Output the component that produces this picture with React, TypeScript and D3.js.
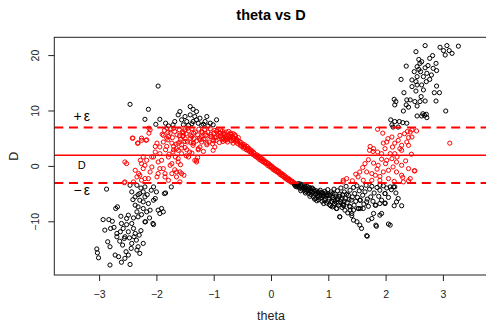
import React, { useEffect, useRef } from "react";
import * as d3 from "d3";

// reference level and tolerance band
const centerD = 2;
const epsilon = 5;

const xTicks = [-3, -2, -1, 0, 1, 2, 3];
const yTicks = [-10, 0, 10, 20];

// [theta, D] pairs, grouped by region
const leftLow: [number, number][] = [
    [-3.04, -14.9], [-3.03, -15.6], [-3.01, -16.5], [-2.81, -17.8], [-2.93, -9.6], [-2.83, -9.6],
    [-2.9, -11.5], [-2.8, -11.2], [-2.85, -13.6], [-2.81, -14.5], [-2.69, -12.1], [-2.68, -7.3],
    [-2.71, -7.6], [-2.66, -16.3], [-2.72, -16.0], [-2.61, -17.3], [-2.55, -16.6], [-2.46, -17.7],
    [-2.59, -14.2], [-2.64, -13.5], [-2.55, -12.7], [-2.49, -11.8], [-2.58, -11.2], [-2.52, -10.5],
    [-2.61, -10.3], [-2.43, -10.3], [-2.4, -11.2], [-2.37, -12.1], [-2.39, -12.7], [-2.43, -13.9],
    [-2.23, -13.9], [-2.29, -15.7], [-2.4, -9.3], [-2.32, -9.1], [-2.52, -9.4], [-2.49, -8.8],
    [-2.34, -8.2], [-2.2, -10.0], [-2.17, -8.2], [-2.05, -10.5], [-2.37, -5.5], [-2.32, -5.1],
    [-2.29, -6.1], [-2.23, -6.4], [-2.2, -5.5], [-2.14, -6.7], [-2.37, -7.0], [-2.32, -7.3],
    [-2.23, -7.6], [-2.11, -7.9], [-2.05, -6.1], [-2.0, -4.6], [-1.91, -7.6], [-1.88, -8.2],
    [-1.94, -8.5], [-2.43, -4.6], [-2.23, -4.6], [-2.05, -3.7], [-2.2, -3.7], [-2.69, -12.7],
    [-2.49, -16.0], [-2.34, -15.1], [-2.32, -14.5], [-2.87, -4.1], [-2.46, -3.4], [-2.34, -3.4],
    [-2.29, -4.9], [-1.86, -4.9], [-2.02, -5.8], [-1.97, -7.9], [-1.84, -4.8], [-1.74, -3.7],
    [-2.06, -10.3], [-2.19, -10.0], [-2.63, -11.8], [-2.47, -12.9], [-2.35, -13.3], [-2.56, -13.0],
    [-2.74, -11.0], [-2.44, -14.8], [-2.53, -15.4], [-2.77, -9.9], [-2.62, -9.0], [-2.27, -11.6],
    [-2.3, -12.4], [-2.12, -9.3], [-2.26, -8.7], [-2.16, -5.1], [-2.41, -6.0], [-2.27, -3.9],
    [-2.09, -4.3],
];

const leftHigh: [number, number][] = [
    [-1.97, 14.5], [-2.46, 11.2], [-2.14, 10.3], [-2.2, 8.5], [-1.94, 8.5], [-2.01, 7.6],
    [-1.84, 7.8], [-1.79, 7.3], [-1.62, 9.3], [-1.59, 9.9], [-1.41, 10.8], [-1.36, 10.3],
    [-1.3, 9.9], [-1.41, 9.3], [-1.33, 9.0], [-1.24, 8.7], [-1.12, 9.0], [-0.95, 8.4],
    [-1.56, 8.4], [-1.47, 8.1], [-1.36, 8.1], [-1.27, 7.8], [-1.15, 8.1], [-1.06, 7.8],
    [-1.68, 8.1], [-1.71, 7.5], [-1.53, 7.5], [-1.44, 7.4], [-1.38, 7.7], [-1.21, 7.4],
    [-1.01, 7.5], [-1.3, 8.4], [-1.18, 7.6], [-1.5, 9.0], [-1.1, 7.3],
];

const leftRed: [number, number][] = [
    [-2.52, 0.5], [-2.42, 5.1], [-2.33, 4.2], [-2.26, 5.1], [-2.17, 4.8], [-2.13, 6.9],
    [-2.56, -2.95], [-2.4, -2.8], [-2.37, -0.7], [-2.31, -1.3], [-2.28, 1.1], [-2.23, 1.7],
    [-2.2, 0.2], [-2.26, -2.5], [-2.14, -2.2], [-2.08, -0.1], [-2.05, 1.7], [-2.02, 3.6],
    [-1.99, 4.2], [-1.94, 2.3], [-1.91, 1.1], [-1.88, -0.4], [-1.97, -1.3], [-1.85, -1.9],
    [-1.82, 3.6], [-1.79, 5.4], [-1.82, 6.9], [-1.76, 6.0], [-1.7, 3.0], [-1.67, 1.7],
    [-1.73, 0.5], [-1.65, -1.0], [-1.59, -2.8], [-1.56, -1.3], [-1.62, 4.2], [-1.56, 3.3],
    [-1.53, 6.0], [-1.5, 4.5], [-1.47, 3.0], [-1.44, 1.7], [-1.38, 5.4], [-1.35, 4.2],
    [-1.33, 1.1], [-1.3, 0.8], [-1.27, 3.0], [-1.24, 4.8], [-1.21, 6.3], [-1.18, 2.7],
    [-1.12, 4.2], [-1.06, 5.4], [-1.01, 4.8], [-0.95, 6.3], [-0.89, 5.4], [-0.83, 6.0],
    [-0.77, 4.8], [-0.72, 5.4], [-0.66, 5.1], [-0.6, 4.8],
    [-2.41, 5.1], [-2.32, 4.2], [-2.26, 4.7], [-2.18, 4.7], [-2.11, 6.6], [-2.13, 6.0],
    [-2.55, 0.8], [-2.34, -1.9], [-2.29, -1.6], [-2.26, 0.5], [-2.23, -0.4], [-2.17, 1.1],
    [-2.08, 1.7], [-2.11, -1.0], [-2.2, -2.2], [-1.99, -1.9], [-1.94, -0.4], [-1.97, 0.8],
    [-2.02, 2.6], [-1.94, 3.5], [-1.88, 4.4], [-1.88, 5.6], [-1.82, 5.1], [-1.73, 4.2],
    [-1.71, 2.6], [-1.79, 1.7], [-1.76, 0.2], [-1.85, -1.3], [-1.73, -1.3], [-1.79, -2.5],
    [-1.65, -1.9], [-1.59, -1.0], [-1.62, 0.8], [-1.56, 2.3], [-1.65, 3.2], [-1.59, 4.4],
    [-1.53, 5.6], [-1.5, 6.6], [-1.41, 5.1], [-1.36, 4.2], [-1.3, 1.1], [-1.27, 3.2],
    [-1.21, 4.4], [-1.15, 6.0], [-0.98, 3.5], [-0.89, 6.0], [-0.8, 5.1], [-2.55, -2.8],
    [-1.01, 2.9],
    [-1.9, 5.8], [-1.86, 6.5], [-1.84, 3.0], [-1.8, 4.8], [-1.78, 2.2], [-1.75, 6.8],
    [-1.72, 5.2], [-1.7, 3.6], [-1.68, 6.3], [-1.66, 4.0], [-1.64, 5.7], [-1.62, 2.9],
    [-1.6, 6.6], [-1.58, 4.9], [-1.56, 3.9], [-1.54, 5.4], [-1.52, 6.9], [-1.5, 3.4],
    [-1.48, 5.9], [-1.46, 4.4], [-1.44, 6.4], [-1.42, 2.6], [-1.4, 5.6], [-1.38, 6.8],
    [-1.36, 3.8], [-1.34, 5.0], [-1.32, 6.2], [-1.3, 4.6], [-1.28, 5.7], [-1.26, 6.7],
    [-1.24, 3.5], [-1.22, 5.3], [-1.2, 6.1], [-1.18, 4.9], [-1.16, 6.6], [-1.14, 5.6],
    [-1.12, 3.9], [-1.1, 6.2], [-1.08, 4.4], [-1.06, 6.8], [-1.04, 5.4], [-1.02, 4.1],
    [-1.0, 6.0], [-0.98, 5.2], [-0.96, 4.7], [-0.94, 6.4], [-0.92, 5.6], [-0.9, 4.3],
    [-0.88, 6.6], [-0.86, 5.0], [-0.84, 4.5], [-0.82, 5.9], [-0.8, 4.7], [-0.78, 5.4],
    [-0.76, 4.4], [-1.55, 6.2], [-1.45, 6.9], [-1.35, 6.0], [-1.25, 5.1], [-1.15, 5.0],
    [-1.05, 5.8], [-1.4, 4.3], [-1.5, 5.0], [-1.6, 5.5], [-1.7, 6.9], [-1.8, 6.1],
    [-1.62, 1.4], [-1.48, 1.9], [-1.38, 2.4], [-1.28, 1.6], [-1.58, 0.3], [-1.68, -0.6],
    [-1.52, -1.6],
];

const midBand: [number, number][] = [
    [-0.74, 5.6], [-0.72, 4.9], [-0.7, 5.8], [-0.69, 4.6], [-0.67, 5.3], [-0.66, 4.2],
    [-0.64, 5.0], [-0.63, 5.7], [-0.61, 4.4], [-0.6, 4.9], [-0.58, 4.1], [-0.57, 5.2],
    [-0.55, 4.5], [-0.54, 3.8], [-0.52, 4.3], [-0.51, 3.6], [-0.49, 4.0], [-0.48, 3.3],
    [-0.46, 3.9], [-0.45, 3.4], [-0.43, 3.0], [-0.42, 3.6], [-0.4, 2.9], [-0.39, 3.3],
    [-0.37, 2.6], [-0.36, 3.0], [-0.34, 2.4], [-0.33, 2.8], [-0.31, 2.1], [-0.3, 2.5],
    [-0.28, 2.0], [-0.27, 1.8], [-0.25, 2.1], [-0.24, 1.6], [-0.22, 1.9], [-0.21, 1.3],
    [-0.19, 1.6], [-0.18, 1.1], [-0.16, 1.4], [-0.15, 0.9], [-0.13, 1.2], [-0.12, 0.7],
    [-0.1, 0.9], [-0.09, 0.5], [-0.07, 0.7], [-0.06, 0.2], [-0.04, 0.5], [-0.03, 0.0],
    [-0.01, 0.2], [0.0, -0.2], [0.02, 0.0], [0.03, -0.5], [0.05, -0.3], [0.06, -0.7],
    [0.08, -0.5], [0.09, -0.9], [0.11, -0.7], [0.12, -1.1], [0.14, -0.9], [0.15, -1.4],
    [0.17, -1.2], [0.18, -1.6], [0.2, -1.4], [0.21, -1.8], [0.23, -1.6], [0.24, -2.1],
    [0.26, -1.9], [0.27, -2.3], [0.29, -2.1], [0.3, -2.5], [0.32, -2.3], [0.33, -2.7],
    [0.35, -2.6], [0.36, -2.9], [0.38, -2.8], [0.4, -2.95],
    [-0.71, 5.2], [-0.65, 4.7], [-0.59, 4.6], [-0.53, 4.0], [-0.47, 3.6], [-0.41, 3.2],
    [-0.35, 2.7], [-0.29, 2.3], [-0.23, 1.8], [-0.17, 1.3], [-0.11, 0.8], [-0.05, 0.4],
    [0.01, -0.1], [0.07, -0.6], [0.13, -1.0], [0.19, -1.5], [0.25, -2.0], [0.31, -2.4],
    [0.37, -2.7],
    [-0.9, 6.1], [-0.88, 5.5], [-0.85, 6.4], [-0.83, 5.0], [-0.8, 5.8], [-0.78, 6.2],
    [-0.76, 5.1], [-0.74, 6.3], [-0.7, 6.0], [-0.66, 5.9], [-0.62, 5.5], [-0.85, 4.8],
    [-0.95, 5.3], [-0.98, 6.5], [-1.0, 4.6],
];

const rightLow: [number, number][] = [
    [0.41, -3.3], [0.42, -3.4], [0.44, -3.2], [0.45, -3.7], [0.47, -3.5], [0.48, -3.1],
    [0.5, -3.9], [0.51, -3.4], [0.53, -3.6], [0.54, -4.1], [0.55, -3.3], [0.57, -3.8],
    [0.58, -4.3], [0.59, -3.5], [0.61, -4.0], [0.62, -4.6], [0.63, -3.6], [0.65, -4.2],
    [0.66, -4.9], [0.67, -3.8], [0.69, -4.4], [0.7, -5.1], [0.71, -4.0], [0.73, -4.7],
    [0.74, -5.5], [0.75, -4.2], [0.77, -5.0], [0.78, -5.8], [0.79, -4.4], [0.81, -5.3],
    [0.82, -4.7], [0.83, -6.0], [0.85, -5.1], [0.86, -4.3], [0.87, -5.7], [0.89, -6.3],
    [0.9, -4.8], [0.91, -5.4], [0.93, -6.1], [0.94, -4.5], [0.95, -5.8], [0.97, -6.6],
    [0.98, -5.1], [0.99, -4.2], [1.01, -5.9], [1.02, -6.9], [1.03, -5.3], [1.05, -4.6],
    [1.06, -6.3], [1.07, -7.3], [1.08, -5.6], [1.1, -4.1], [1.11, -6.7], [1.12, -5.0],
    [1.14, -7.6], [1.15, -6.0], [1.16, -4.4], [1.18, -7.0], [1.19, -5.4], [1.2, -9.1],
    [1.21, -6.4], [1.22, -3.9], [1.24, -7.4], [1.25, -5.1], [1.26, -6.8], [1.28, -4.6],
    [1.29, -7.9], [1.3, -5.8], [1.31, -3.6], [1.33, -6.5], [1.34, -8.4], [1.35, -5.2],
    [1.37, -7.2], [1.38, -4.3], [1.4, -6.1], [1.41, -8.9], [1.42, -5.5], [1.44, -3.8],
    [1.45, -7.0], [1.46, -4.9], [1.48, -6.3], [1.5, -3.5], [1.51, -5.6], [1.53, -7.6],
    [1.54, -4.4], [1.56, -6.1], [1.58, -3.9], [1.6, -5.2], [1.62, -6.8], [1.64, -4.6],
    [1.66, -3.4], [1.68, -5.9], [1.7, -7.2], [1.72, -4.1], [1.74, -5.5], [1.76, -3.6],
    [1.78, -6.3], [1.8, -4.8], [1.83, -7.0], [1.85, -3.8], [1.88, -5.4], [1.9, -4.3],
    [1.93, -6.1], [1.96, -3.5], [1.99, -4.9], [2.02, -3.9], [2.05, -5.6], [2.1, -4.2],
    [2.14, -3.7], [2.18, -4.8],
    [0.52, -4.4], [0.6, -4.8], [0.68, -5.4], [0.72, -3.9], [0.76, -5.9], [0.8, -6.2],
    [0.84, -4.6], [0.88, -5.2], [0.92, -6.7], [0.96, -5.3], [1.0, -6.3], [1.04, -7.1],
    [1.09, -6.0], [1.13, -5.5], [1.17, -6.6], [1.23, -6.0], [1.27, -7.1],
    [0.43, -3.6], [0.46, -3.3], [0.49, -3.7], [0.52, -3.2], [0.56, -3.9], [0.6, -3.7],
    [0.64, -4.4], [0.68, -4.0], [0.72, -4.6], [0.76, -4.5], [0.8, -4.9], [0.84, -5.4],
    [0.88, -4.7], [0.92, -5.0], [0.96, -4.8], [1.0, -5.2], [1.04, -5.0], [1.08, -4.9],
    [1.12, -6.2], [1.16, -5.8], [1.2, -5.0], [1.24, -5.7], [1.28, -6.3], [1.32, -5.0],
    [1.36, -6.0],
    [1.5, -10.0], [1.55, -10.6], [1.67, -12.5], [1.7, -9.7], [1.76, -9.4], [1.83, -10.6],
    [2.05, -10.4], [1.41, -8.5], [1.44, -7.9], [1.52, -7.6], [1.56, -7.6], [1.79, -8.5],
    [1.93, -8.5], [1.99, -6.7], [1.9, -6.7], [1.82, -7.0], [1.67, -6.4], [1.55, -6.1],
    [1.38, -7.3], [1.26, -7.0], [1.15, -7.6], [1.09, -7.0], [1.44, -9.7], [1.58, -11.2],
    [1.68, -12.6], [1.84, -10.8], [1.9, -8.8], [2.08, -10.6], [2.22, -5.8], [2.19, -6.4],
    [2.28, -7.1], [2.15, -7.1], [1.99, -6.6], [1.99, -4.9], [2.08, -3.7], [2.16, -3.7],
    [1.61, -7.6], [1.38, -7.9], [1.2, -9.1], [1.9, -3.4],
];

const rightRed: [number, number][] = [
    [1.86, 6.7], [2.25, 5.6], [2.22, 4.7], [2.43, 6.2], [2.54, 6.4], [2.4, 5.2],
    [2.46, 5.3], [2.37, 4.4], [2.4, 3.8], [2.28, 3.8], [2.16, 4.2], [2.11, 5.3],
    [2.02, 4.4], [1.96, 4.2], [1.99, 3.2], [1.79, 3.2], [1.72, 2.9], [1.86, 2.6],
    [1.93, 2.3], [2.08, 2.3], [2.16, 2.3], [2.28, 2.9], [1.93, 1.3], [2.02, 1.1],
    [2.11, 1.4], [2.19, 0.8], [2.28, 0.2], [1.64, 0.5], [1.79, 0.6], [1.87, 0.2],
    [1.55, -1.0], [1.67, -1.0], [1.76, -1.3], [1.82, -1.6], [1.96, -1.0], [2.05, -0.7],
    [2.19, -1.0], [2.28, -1.6], [2.4, -0.4], [2.5, -0.8], [2.43, -2.2], [2.31, -2.8],
    [1.32, -2.2], [1.26, -2.5], [1.52, -1.9], [1.61, -2.5], [2.05, -2.2], [1.9, -2.5],
    [1.76, -2.5], [2.13, -0.1], [2.38, 6.3], [2.51, -0.8], [3.12, 4.2], [1.73, 3.6],
    [1.78, 2.7], [1.26, -2.8], [2.33, 5.9], [2.46, 6.6], [2.04, 5.0], [1.95, 6.0],
    [2.25, 3.2], [2.12, 3.5], [1.85, -0.5], [1.7, 1.2], [1.6, -0.2], [1.48, -1.4],
    [1.42, -2.6], [2.2, 1.7], [2.35, 1.0], [2.45, 2.2], [2.0, 0.5], [1.9, -1.8],
    [2.3, -2.0], [2.15, -2.7], [2.4, -2.6],
];

const rightHigh: [number, number][] = [
    [2.69, 21.8], [2.95, 21.5], [3.07, 21.8], [3.27, 21.7], [3.01, 20.9], [3.11, 20.9],
    [3.16, 20.4], [3.04, 20.1], [2.53, 20.7], [2.82, 20.0], [2.77, 19.5], [2.58, 19.3],
    [2.63, 18.9], [2.6, 18.6], [2.88, 18.6], [2.36, 18.1], [2.55, 18.0], [2.69, 17.8],
    [2.83, 17.7], [2.5, 17.1], [2.61, 17.1], [2.72, 16.8], [2.89, 17.3], [2.55, 16.2],
    [2.66, 16.2], [2.77, 15.7], [2.27, 15.7], [2.46, 15.6], [2.53, 15.3], [2.71, 15.3],
    [2.55, 14.7], [2.63, 14.7], [2.89, 14.5], [2.46, 14.4], [2.53, 13.6], [2.32, 13.3],
    [2.94, 13.3], [2.85, 13.3], [2.66, 13.8], [2.15, 12.1], [2.18, 11.7], [2.16, 11.1],
    [2.37, 12.0], [2.43, 12.0], [2.51, 11.7], [2.6, 11.7], [2.69, 11.8], [2.88, 11.8],
    [2.36, 11.1], [2.4, 10.7], [2.55, 10.9], [2.31, 10.0], [3.05, 10.0], [2.55, 9.1],
    [2.63, 9.1], [2.71, 9.4], [2.72, 8.8], [2.09, 8.4], [2.16, 8.1], [2.24, 8.1],
    [2.3, 7.9], [2.37, 7.8], [2.11, 7.5], [2.22, 7.1], [2.13, 7.1], [2.65, 9.5],
    [2.68, 9.2], [2.74, 18.2], [2.58, 17.5], [2.8, 16.5], [2.62, 12.6],
];

const allPoints = [...leftLow, ...leftHigh, ...leftRed, ...midBand, ...rightLow, ...rightRed, ...rightHigh];

const ThetaVsD: React.FC = () => {
    const svgRef = useRef<SVGSVGElement | null>(null);

    useEffect(() => {
        if (!svgRef.current) return;
        const svg = d3.select(svgRef.current);
        svg.selectAll("*").remove();

        const width = 486;
        const height = 322;
        const font = "'Liberation Sans', Arial, Helvetica, sans-serif";
        const plot = { left: 54.3, right: 487.7, top: 37.3, bottom: 275 };

        svg.attr("width", width).attr("height", height);

        const x = d3.scaleLinear().domain([-3.782, 3.782]).range([plot.left, plot.right]);
        const y = d3.scaleLinear().domain([-19.6, 23.3]).range([plot.bottom, plot.top]);

        // points first, lines drawn over them
        svg
            .append("g")
            .selectAll("circle")
            .data(allPoints)
            .join("circle")
            .attr("cx", (d) => x(d[0]))
            .attr("cy", (d) => y(d[1]))
            .attr("r", 2.1)
            .attr("fill", "none")
            .attr("stroke", (d) => (Math.abs(d[1] - centerD) <= epsilon ? "#ff0000" : "#000000"))
            .attr("stroke-width", 1);

        svg
            .append("line")
            .attr("x1", plot.left)
            .attr("x2", plot.right)
            .attr("y1", y(centerD))
            .attr("y2", y(centerD))
            .attr("stroke", "#ff0000")
            .attr("stroke-width", 1.4);

        [centerD + epsilon, centerD - epsilon].forEach((v) => {
            svg
                .append("line")
                .attr("x1", plot.left)
                .attr("x2", plot.right)
                .attr("y1", y(v))
                .attr("y2", y(v))
                .attr("stroke", "#ff0000")
                .attr("stroke-width", 2)
                .attr("stroke-dasharray", "9,5.7");
        });

        // box
        svg
            .append("rect")
            .attr("x", plot.left)
            .attr("y", plot.top)
            .attr("width", plot.right - plot.left)
            .attr("height", plot.bottom - plot.top)
            .attr("fill", "none")
            .attr("stroke", "#222")
            .attr("stroke-width", 1);

        // x axis
        const xAxis = svg
            .append("g")
            .attr("transform", `translate(0,${plot.bottom})`)
            .call(d3.axisBottom(x).tickValues(xTicks).tickSize(6).tickPadding(9.5).tickFormat(d3.format("d")));
        xAxis.select(".domain").remove();
        xAxis.selectAll("line").attr("stroke", "#222");
        xAxis.selectAll("text").attr("font-family", font).attr("font-size", "10.5px").attr("fill", "#222");

        // y axis, labels rotated like R
        const yAxis = svg.append("g");
        yAxis
            .selectAll("line")
            .data(yTicks)
            .join("line")
            .attr("x1", plot.left)
            .attr("x2", plot.left - 6)
            .attr("y1", (d) => y(d))
            .attr("y2", (d) => y(d))
            .attr("stroke", "#222");
        yAxis
            .selectAll("text")
            .data(yTicks)
            .join("text")
            .attr("transform", (d) => `translate(39,${y(d)}) rotate(-90)`)
            .attr("text-anchor", "middle")
            .attr("font-family", font)
            .attr("font-size", "10.5px")
            .attr("fill", "#222")
            .text((d) => d3.format("d")(d));

        // titles
        svg
            .append("text")
            .attr("x", (plot.left + plot.right) / 2)
            .attr("y", 19.5)
            .attr("text-anchor", "middle")
            .attr("font-family", font)
            .attr("font-weight", "bold")
            .attr("font-size", "14.5px")
            .text("theta vs D");

        svg
            .append("text")
            .attr("x", (plot.left + plot.right) / 2)
            .attr("y", 319.5)
            .attr("text-anchor", "middle")
            .attr("font-family", font)
            .attr("font-size", "12.5px")
            .attr("fill", "#222")
            .text("theta");

        svg
            .append("text")
            .attr("transform", `translate(18,${(plot.top + plot.bottom) / 2}) rotate(-90)`)
            .attr("text-anchor", "middle")
            .attr("font-family", font)
            .attr("font-size", "12.5px")
            .attr("fill", "#222")
            .text("D");

        // band labels
        const labelX = 81.7;
        const plusLabel = svg
            .append("text")
            .attr("x", labelX)
            .attr("y", y(centerD + epsilon) - 7)
            .attr("text-anchor", "middle")
            .attr("font-family", font)
            .attr("font-size", "14px");
        plusLabel.append("tspan").text("+");
        plusLabel.append("tspan").attr("dx", 2).text("ε");

        svg
            .append("text")
            .attr("x", labelX)
            .attr("y", y(centerD) + 14)
            .attr("text-anchor", "middle")
            .attr("font-family", font)
            .attr("font-size", "11px")
            .text("D");

        const minusLabel = svg
            .append("text")
            .attr("x", labelX)
            .attr("y", y(centerD - epsilon) + 12)
            .attr("text-anchor", "middle")
            .attr("font-family", font)
            .attr("font-size", "14px");
        minusLabel.append("tspan").text("−");
        minusLabel.append("tspan").attr("dx", 2).text("ε");
    }, []);

    return (
        <div style={{ position: "absolute", left: 0, top: 0, width: 486, height: 322, background: "#fff" }}>
            <svg ref={svgRef} style={{ display: "block" }}></svg>
        </div>
    );
};

export default ThetaVsD;
